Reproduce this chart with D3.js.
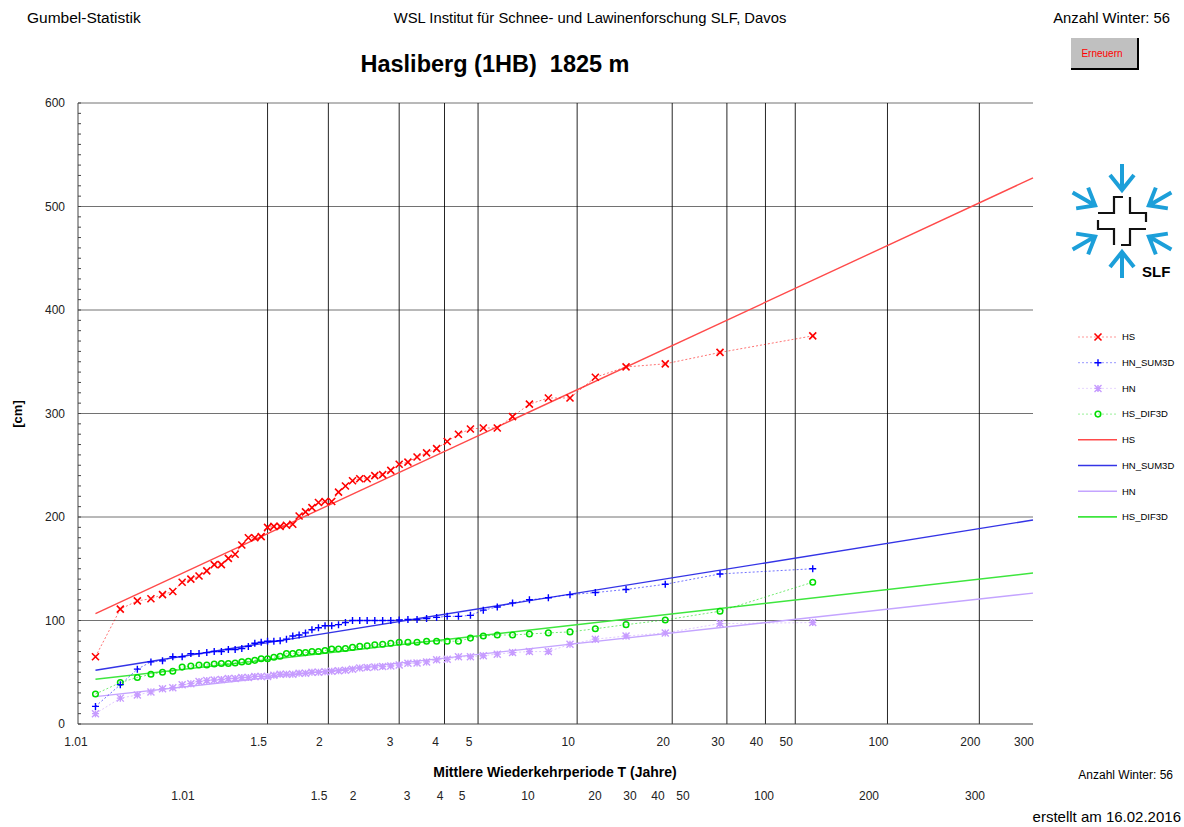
<!DOCTYPE html>
<html>
<head>
<meta charset="utf-8">
<script src="https://cdn.jsdelivr.net/npm/d3@7"></script>
<style>
  body { margin: 0; background: #fff; }
  svg { display: block; font-family: "Liberation Sans", Arial, sans-serif; }
</style>
</head>
<body>
<svg id="chart" width="1184" height="827"></svg>
<script>
// ---- data: annual maxima sorted ascending (cm), 56 winters ----
const seriesNames = ["HS", "HN_SUM3D", "HN", "HS_DIF3D"];
const hsValues = [65, 111, 119, 121, 125, 128, 137, 140, 143, 148,
  154, 154, 160, 164, 173, 180, 180, 181, 190, 191,
  191, 192, 193, 201, 205, 209, 214, 215, 215, 224,
  230, 235, 237, 237, 240, 241, 245, 251, 253, 258,
  262, 266, 273, 280, 285, 286, 286, 297, 309, 315,
  315, 335, 345, 348, 359, 375];
const hnSum3dValues = [17, 38, 53, 60, 61, 65, 65, 68, 68, 69,
  70, 70, 72, 72, 73, 75, 78, 79, 80, 80,
  80.5, 82, 85, 86, 88, 91, 93, 95, 95, 96,
  98, 100, 100, 100, 100, 100, 100, 100.5, 101, 101,
  102, 103, 104, 104, 105, 110, 113, 117, 120, 122,
  125, 127, 130, 135, 145, 150];
const hnValues = [10, 25, 28, 31, 34, 35, 38, 39, 41, 42,
  42.5, 43, 44, 44, 45, 45, 46, 46, 46, 47,
  48, 48, 48, 49, 49, 50, 50, 50.5, 51, 51.5,
  52, 53, 54, 54.5, 55, 55.5, 56, 57, 58.6, 59,
  60, 62, 62.5, 65, 65, 66, 67.5, 69, 70, 70,
  77, 82, 85, 88, 97, 98];
const hsDif3dValues = [29, 40, 45, 48, 50, 51, 55, 56, 57, 57,
  58, 58.5, 58.5, 59, 60, 60.5, 61.5, 63, 63, 64.5,
  65.5, 68, 68, 69, 69, 70, 70, 71, 72.5, 72.5,
  73, 74, 75, 75.5, 76.5, 77, 78, 79, 79, 79,
  80, 80, 80, 80, 83, 85, 86, 86, 87, 88,
  89, 92, 96, 100.5, 109, 137];
// Gumbel fit per series: location u and scale alpha (cm)
const fitLocation = [189.5, 80.5, 46.1, 63.4];
const fitScale = [59.3, 20.45, 14.1, 14.46];

// ---- axis ticks ----
const periodTicks = [1.01, 1.5, 2, 3, 4, 5, 10, 20, 30, 40, 50, 100, 200, 300];
const cmTicks = [0, 100, 200, 300, 400, 500, 600];

// ---- helpers ----
const gumbel = T => -Math.log(-Math.log(1 - 1 / T));
const nWinters = hsValues.length;
const plotVariate = i => -Math.log(-Math.log((i + 1) / (nWinters + 1)));

const svg = d3.select("#chart");
const x = d3.scaleLinear().domain([gumbel(1.01), gumbel(300)]).range([78, 1033]);
const y = d3.scaleLinear().domain([0, 600]).range([724, 103]);
// secondary period label row
const xLower = d3.scaleLinear()
  .domain(periodTicks.map(gumbel))
  .range([183, 319, 353, 407, 440, 462, 528, 595, 630, 658, 683, 764, 869, 975]);

// ---- header ----
svg.append("text").attr("x", 27).attr("y", 23).attr("font-size", 15.5).text("Gumbel-Statistik");
svg.append("text").attr("x", 590).attr("y", 23).attr("font-size", 14.8).attr("text-anchor", "middle")
  .text("WSL Institut für Schnee- und Lawinenforschung SLF, Davos");
svg.append("text").attr("x", 1170).attr("y", 23).attr("font-size", 14.8).attr("text-anchor", "end")
  .text("Anzahl Winter: 56");
svg.append("text").attr("x", 495).attr("y", 72).attr("font-size", 23.5).attr("font-weight", "bold")
  .attr("text-anchor", "middle").style("white-space", "pre").text("Hasliberg (1HB)  1825 m");

// button
const btn = svg.append("g");
btn.append("rect").attr("x", 1071).attr("y", 38).attr("width", 68).attr("height", 32).attr("fill", "#000");
btn.append("rect").attr("x", 1070).attr("y", 37).attr("width", 67).attr("height", 31).attr("fill", "#fff");
btn.append("rect").attr("x", 1071).attr("y", 38).attr("width", 66).attr("height", 30).attr("fill", "#c0c0c0");
btn.append("text").attr("x", 1102).attr("y", 57).attr("font-size", 10).attr("fill", "#ff0000")
  .attr("text-anchor", "middle").text("Erneuern");

// ---- grid ----
const grid = svg.append("g");
grid.selectAll("line.h").data(cmTicks.slice(1)).join("line")
  .attr("x1", 78).attr("x2", 1033).attr("y1", d => y(d)).attr("y2", d => y(d))
  .attr("stroke", "#000").attr("stroke-width", 1).attr("opacity", 0.55);
grid.selectAll("line.v").data(periodTicks.slice(1, -1)).join("line")
  .attr("x1", d => x(gumbel(d))).attr("x2", d => x(gumbel(d)))
  .attr("y1", 103).attr("y2", 724)
  .attr("stroke", "#000").attr("stroke-width", 1).attr("opacity", 0.85);

// y axis with minor ticks
const yAxis = svg.append("g");
yAxis.append("line").attr("x1", 78).attr("x2", 78).attr("y1", 103).attr("y2", 724).attr("stroke", "#444");
yAxis.selectAll("line.t").data(d3.range(0, 601, 10)).join("line")
  .attr("x1", 78).attr("x2", 81).attr("y1", d => y(d)).attr("y2", d => y(d)).attr("stroke", "#444");
yAxis.selectAll("text").data(cmTicks).join("text")
  .attr("x", 65).attr("y", d => y(d)).attr("dy", "0.35em").attr("text-anchor", "end")
  .attr("font-size", 12).attr("fill", "#222").text(d => d);
svg.append("text").attr("transform", "translate(22,414) rotate(-90)").attr("text-anchor", "middle")
  .attr("font-size", 13).attr("font-weight", "bold").text("[cm]");

// x axis
const xAxis = svg.append("g");
xAxis.append("line").attr("x1", 78).attr("x2", 1033).attr("y1", 724).attr("y2", 724).attr("stroke", "#444");
xAxis.selectAll("text").data(periodTicks).join("text")
  .attr("x", d => Math.max(x(gumbel(d)) - 9, 76)).attr("y", 746).attr("text-anchor", "middle")
  .attr("font-size", 12).attr("fill", "#222").text(d => d);
svg.append("text").attr("x", 555).attr("y", 777).attr("text-anchor", "middle")
  .attr("font-size", 14).attr("font-weight", "bold").text("Mittlere Wiederkehrperiode T (Jahre)");
svg.append("g").selectAll("text").data(periodTicks).join("text")
  .attr("x", d => xLower(gumbel(d))).attr("y", 800).attr("text-anchor", "middle")
  .attr("font-size", 12).attr("fill", "#222").text(d => d);
svg.append("text").attr("x", 1173).attr("y", 779).attr("text-anchor", "end")
  .attr("font-size", 12).text("Anzahl Winter: 56");
svg.append("text").attr("x", 1181).attr("y", 822).attr("text-anchor", "end")
  .attr("font-size", 15).text("erstellt am 16.02.2016");

// ---- series ----
const markerColor = ["#ff0000", "#0000ff", "#c79cff", "#00dd00"];
const fitColor = ["#ff4a4a", "#3434e6", "#c4a4ff", "#3ee63e"];
const allValues = [hsValues, hnSum3dValues, hnValues, hsDif3dValues];

function drawMarker(g, k, cx, cy) {
  const s = 3.5;
  const c = markerColor[k];
  if (k === 0) {
    g.append("path").attr("d", `M${cx - s},${cy - s}L${cx + s},${cy + s}M${cx - s},${cy + s}L${cx + s},${cy - s}`)
      .attr("stroke", c).attr("stroke-width", 1.6).attr("fill", "none");
  } else if (k === 1) {
    g.append("path").attr("d", `M${cx - s},${cy}L${cx + s},${cy}M${cx},${cy - s}L${cx},${cy + s}`)
      .attr("stroke", c).attr("stroke-width", 1.4).attr("fill", "none");
  } else if (k === 2) {
    g.append("path").attr("d", `M${cx - s},${cy - s}L${cx + s},${cy + s}M${cx - s},${cy + s}L${cx + s},${cy - s}M${cx - s},${cy}L${cx + s},${cy}M${cx},${cy - s}L${cx},${cy + s}`)
      .attr("stroke", c).attr("stroke-width", 1.4).attr("fill", "none");
  } else {
    g.append("circle").attr("cx", cx).attr("cy", cy).attr("r", 2.8)
      .attr("stroke", c).attr("stroke-width", 1.5).attr("fill", "none");
  }
}

const fitStart = plotVariate(0);
const fitEnd = gumbel(300);
const plotG = svg.append("g");
// fitted Gumbel lines
[0, 1, 2, 3].forEach(k => {
  const pts = [fitStart, fitEnd].map(v => [x(v), y(fitLocation[k] + fitScale[k] * v)]);
  plotG.append("path").attr("d", d3.line()(pts)).attr("stroke", fitColor[k])
    .attr("stroke-width", 1.4).attr("fill", "none");
});
// empirical points, drawn so that HS ends up on top
[2, 3, 1, 0].forEach(k => {
  const vals = allValues[k];
  const line = d3.line().x((d, i) => x(plotVariate(i))).y(d => y(d));
  plotG.append("path").attr("d", line(vals)).attr("stroke", markerColor[k])
    .attr("stroke-width", 1).attr("stroke-dasharray", "2,2").attr("opacity", 0.55).attr("fill", "none");
  const g = plotG.append("g");
  vals.forEach((v, i) => drawMarker(g, k, x(plotVariate(i)), y(v)));
});

// ---- legend ----
const legend = svg.append("g");
const legendRows = [
  { k: 0, type: "points" }, { k: 1, type: "points" }, { k: 2, type: "points" }, { k: 3, type: "points" },
  { k: 0, type: "fit" }, { k: 1, type: "fit" }, { k: 2, type: "fit" }, { k: 3, type: "fit" }
];
legendRows.forEach((r, j) => {
  const ly = 337 + j * 25.7;
  if (r.type === "points") {
    legend.append("line").attr("x1", 1078).attr("x2", 1117).attr("y1", ly).attr("y2", ly)
      .attr("stroke", markerColor[r.k]).attr("stroke-dasharray", "2,2").attr("opacity", 0.4);
    drawMarker(legend, r.k, 1098, ly);
  } else {
    legend.append("line").attr("x1", 1078).attr("x2", 1117).attr("y1", ly).attr("y2", ly)
      .attr("stroke", fitColor[r.k]).attr("stroke-width", 1.6);
  }
  legend.append("text").attr("x", 1122).attr("y", ly).attr("dy", "0.35em")
    .attr("font-size", 9.5).text(seriesNames[r.k]);
});

// ---- SLF logo ----
const logo = svg.append("g").attr("transform", "translate(1122,221)");
const arm = "M0,-57L0,-31M-12,-46L0,-31L12,-46";
d3.range(6).forEach(k => {
  logo.append("path").attr("d", arm).attr("transform", `rotate(${k * 60})`)
    .attr("stroke", "#1c9fd9").attr("stroke-width", 4).attr("fill", "none");
});
const crossPiece = "M1,-24L-8,-24L-8,-8L-24,-8";
d3.range(4).forEach(k => {
  logo.append("path").attr("d", crossPiece).attr("transform", `rotate(${k * 90})`)
    .attr("stroke", "#111").attr("stroke-width", 2.2).attr("fill", "none");
});
svg.append("text").attr("x", 1142).attr("y", 277).attr("font-size", 15).attr("font-weight", "bold")
  .text("SLF");
</script>
</body>
</html>
